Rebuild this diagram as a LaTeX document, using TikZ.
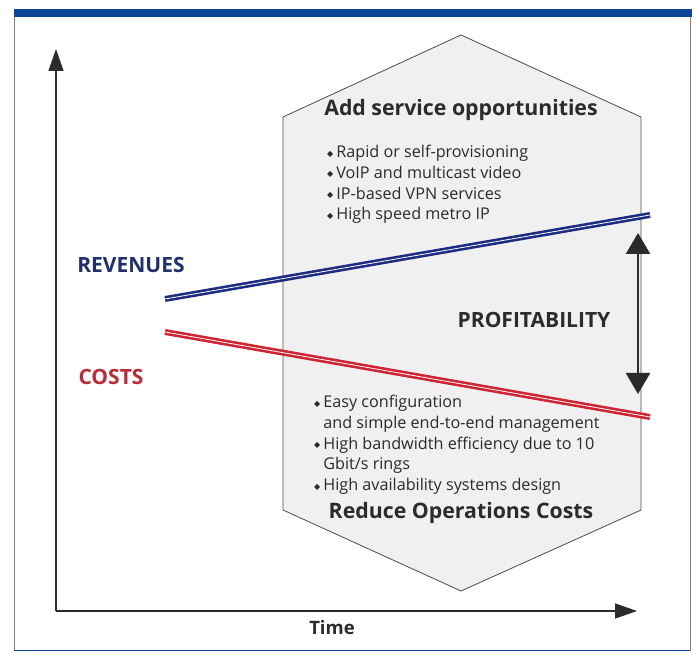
\documentclass[tikz,border=0pt]{standalone}
\usepackage{fontspec}
\setmainfont{Open Sans}
\newfontfamily\symfont{DejaVu Sans}
\usetikzlibrary{arrows.meta}

\definecolor{bandblue}{HTML}{0B4699}
\definecolor{revblue}{HTML}{1C2C82}
\definecolor{costred}{HTML}{D02433}
\definecolor{revtext}{HTML}{1F3070}
\definecolor{costtext}{HTML}{BC2A36}
\definecolor{hexfill}{HTML}{F0F0F0}
\definecolor{inkgray}{HTML}{2B2B2B}

\newcommand{\dia}{\raisebox{1.5pt}{\symfont\fontsize{8}{8}\selectfont ◆}\hspace{3pt}}

\tikzset{
  axisline/.style={line width=1.3pt,inkgray,-{Triangle[length=22pt,width=15pt]}},
  trendline/.style={line width=2.6pt,double=white,double distance=0.8pt},
  heading/.style={inner sep=0pt,font=\fontsize{21.3}{24}\selectfont\bfseries,inkgray},
  bulletlist/.style={inner sep=0pt,anchor=north west,align=left,
    font=\fontsize{16.2}{20.8}\selectfont,inkgray},
  label/.style={inner sep=0pt,font=\fontsize{21}{24}\selectfont\bfseries}
}

\begin{document}
\begin{tikzpicture}[x=1pt,y=-1pt]
  \useasboundingbox (0,0) rectangle (697,652);
  % frame
  \draw[gray,line width=1pt] (14,16) -- (14,650) -- (690,650) -- (690,16);
  \fill[bandblue] (14,9) rectangle (692,17);
  \draw[bandblue,line width=1pt] (14,650.5) -- (690,650.5);

  % hexagon
  \draw[fill=hexfill,draw=black!70,line width=0.8pt]
    (461,35) -- (641,117) -- (641,510) -- (461,591) -- (283,510) -- (283,117) -- cycle;

  % axes
  \coordinate (origin) at (56,611);
  \coordinate (ytop) at (56,49);
  \coordinate (xend) at (637,611);
  \draw[axisline] (origin) -- (ytop);
  \draw[axisline] (origin) -- (xend);
  \node[label,font=\fontsize{18.5}{20}\selectfont\bfseries,inkgray] (time) at (332,628) {Time};

  % service opportunities
  \node[heading] (addtitle) at (461,110) {Add service opportunities};
  \node[bulletlist] (addlist) at (327,145) {\dia Rapid or self-provisioning\\
    \dia VoIP and multicast video\\
    \dia IP-based VPN services\\
    \dia High speed metro IP};

  % operations costs
  \node[bulletlist] (costlist) at (314,395) {\dia Easy configuration\\
    \hphantom{\dia}and simple end-to-end management\\
    \dia High bandwidth efficiency due to 10\\
    \hphantom{\dia}Gbit/s rings\\
    \dia High availability systems design};
  \node[heading] (costtitle) at (461,513) {Reduce Operations Costs};

  % trends
  \coordinate (revstart) at (165,299);
  \coordinate (revend) at (650,215);
  \coordinate (coststart) at (165,332);
  \coordinate (costend) at (650,417);
  \draw[trendline,revblue] (revstart) -- (revend);
  \draw[trendline,costred] (coststart) -- (costend);
  \node[label,revtext] (revenues) at (131,265) {REVENUES};
  \node[label,costtext] (costs) at (111,377) {COSTS};

  % profitability
  \coordinate (proftop) at (638,233);
  \coordinate (profbot) at (638,394);
  \draw[line width=2.4pt,inkgray,{Triangle[length=21pt,width=24pt]}-{Triangle[length=21pt,width=24pt]}]
    (proftop) -- (profbot);
  \node[label,inkgray] (profit) at (534,320) {PROFITABILITY};
\end{tikzpicture}
\end{document}
